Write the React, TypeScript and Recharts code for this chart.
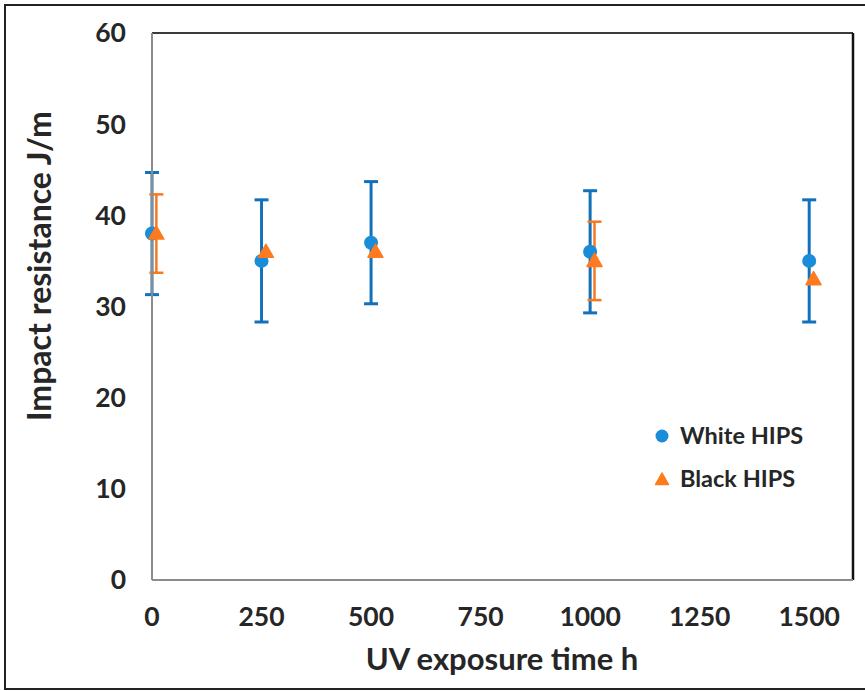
import React from 'react';
import {
  ScatterChart,
  Scatter,
  XAxis,
  YAxis,
  ErrorBar,
  ReferenceLine,
  Legend,
} from 'recharts';

// UV exposure time (h) for each sample set; black HIPS is nudged right so bars stay readable
const whiteHours = [0, 250, 500, 1000, 1500];
const blackHours = [10, 260, 510, 1010, 1510];

// Impact resistance (J/m) and standard deviation
const whiteImpact = [38, 35, 37, 36, 35];
const whiteSpread = [6.7, 6.7, 6.7, 6.7, 6.7];
const blackImpact = [38, 36, 36, 35, 33];
const blackSpread: (number | null)[] = [4.3, null, null, 4.3, null];

const xTicks = [0, 250, 500, 750, 1000, 1250, 1500];
const yTicks = [0, 10, 20, 30, 40, 50, 60];

const seriesNames = ['White HIPS', 'Black HIPS'];

const whiteData = whiteHours.map((h, i) => ({ h, v: whiteImpact[i], e: whiteSpread[i] }));
const blackData = blackHours.map((h, i) => ({ h, v: blackImpact[i], e: blackSpread[i] }));

const FONT = 'Lato, "Open Sans", sans-serif';
const TEXT = '#262626';
const BLUE = '#1a8cd8';
const BLUE_BAR = '#1271bb';
const ORANGE = '#ff7a1e';
const ORANGE_BAR = '#f7791f';

const Dot = (props: any) => {
  const { cx, cy } = props;
  if (cx == null || cy == null) return null;
  return <circle cx={cx} cy={cy} r={7} fill={BLUE} />;
};

const Tri = (props: any) => {
  const { cx, cy } = props;
  if (cx == null || cy == null) return null;
  const pts = `${cx},${cy - 7.5} ${cx + 7.5},${cy + 5.5} ${cx - 7.5},${cy + 5.5}`;
  return (
    <polygon points={pts} fill={ORANGE} stroke={ORANGE} strokeWidth={1.5} strokeLinejoin="round" />
  );
};

const LegendBox = () => (
  <div style={{ fontFamily: FONT, fontWeight: 700, fontSize: 23.5, color: TEXT, lineHeight: '43px' }}>
    {seriesNames.map((name, i) => (
      <div key={name} style={{ display: 'flex', alignItems: 'center', height: 43 }}>
        <svg width={18} height={18} style={{ marginRight: 9 }}>
          {i === 0 ? (
            <circle cx={9} cy={9} r={6.5} fill={BLUE} />
          ) : (
            <polygon points="9,3 15.5,14.5 2.5,14.5" fill={ORANGE} stroke={ORANGE} strokeWidth={1.5} strokeLinejoin="round" />
          )}
        </svg>
        <span>{name}</span>
      </div>
    ))}
  </div>
);

export default function App() {
  return (
    <div style={{ position: 'absolute', left: 0, top: 0, width: 865, height: 691, background: '#fff' }}>
      <ScatterChart
        width={865}
        height={691}
        margin={{ top: 33, right: 12, bottom: 71, left: 92 }}
        style={{ fontFamily: FONT }}
      >
        <XAxis
          type="number"
          dataKey="h"
          domain={[0, 1600]}
          ticks={xTicks}
          interval={0}
          height={40}
          axisLine={{ stroke: '#8c8c8c', strokeWidth: 2 }}
          tickLine={false}
          tickSize={0}
          tickMargin={27}
          tick={{ fill: TEXT, fontSize: 26.5, fontWeight: 700, fontFamily: FONT }}
          label={{
            content: () => (
              <text
                x={502}
                y={658}
                textAnchor="middle"
                dominantBaseline="central"
                fill={TEXT}
                fontSize={31}
                fontWeight={700}
                fontFamily={FONT}
              >
                UV exposure time h
              </text>
            ),
          }}
        />
        <YAxis
          type="number"
          dataKey="v"
          domain={[0, 60]}
          ticks={yTicks}
          interval={0}
          width={60}
          axisLine={{ stroke: '#8c8c8c', strokeWidth: 2 }}
          tickLine={false}
          tickSize={0}
          tickMargin={26}
          tick={{ fill: TEXT, fontSize: 26.5, fontWeight: 700, fontFamily: FONT }}
          label={{
            content: () => (
              <text
                x={38}
                y={266}
                transform="rotate(-90 38 266)"
                textAnchor="middle"
                dominantBaseline="central"
                fill={TEXT}
                fontSize={32}
                fontWeight={700}
                fontFamily={FONT}
              >
                Impact resistance J/m
              </text>
            ),
          }}
        />
        <ReferenceLine y={60} stroke="#3a3a3a" strokeWidth={2} ifOverflow="extendDomain" />
        <ReferenceLine x={1600} stroke="#111" strokeWidth={2.5} ifOverflow="extendDomain" />
        <Scatter
          name={seriesNames[0]}
          data={whiteData}
          shape={Dot}
          isAnimationActive={false}
        >
          <ErrorBar dataKey="e" direction="y" width={7} strokeWidth={3} stroke={BLUE_BAR} isAnimationActive={false} />
        </Scatter>
        <Scatter
          name={seriesNames[1]}
          data={blackData}
          shape={Tri}
          isAnimationActive={false}
        >
          <ErrorBar dataKey="e" direction="y" width={7} strokeWidth={2.5} stroke={ORANGE_BAR} isAnimationActive={false} />
        </Scatter>
        <Legend
          layout="vertical"
          align="center"
          verticalAlign="middle"
          content={() => <LegendBox />}
          wrapperStyle={{ position: 'absolute', left: 653, top: 414, width: 200, height: 90 }}
        />
      </ScatterChart>
      <div
        style={{
          position: 'absolute',
          left: 4,
          top: 4,
          width: 870,
          height: 682,
          borderLeft: '2px solid #222',
          borderTop: '2px solid #222',
          borderBottom: '2px solid #222',
          pointerEvents: 'none',
        }}
      />
    </div>
  );
}
